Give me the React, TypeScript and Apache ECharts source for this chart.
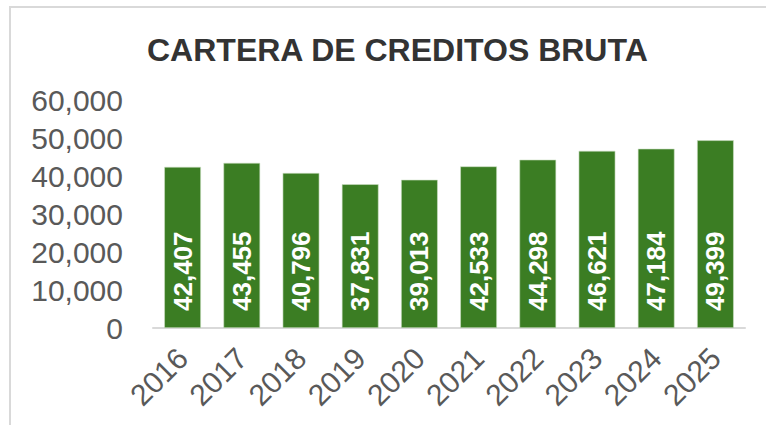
import React, { useEffect, useRef } from "react";
import * as echarts from "echarts";

const years = ["2016", "2017", "2018", "2019", "2020", "2021", "2022", "2023", "2024", "2025"];
const values = [42407, 43455, 40796, 37831, 39013, 42533, 44298, 46621, 47184, 49399];
const title = "CARTERA DE CREDITOS BRUTA";

const FONT = "'Liberation Sans', Arial, sans-serif";

export default function App() {
  const ref = useRef<HTMLDivElement>(null);
  useEffect(() => {
    if (!ref.current) return;
    const chart = echarts.init(ref.current, null, { renderer: "svg" });
    chart.setOption({
      animation: false,
      backgroundColor: "#ffffff",
      title: {
        text: title,
        left: 142,
        top: 29,
        textStyle: { fontFamily: FONT, fontSize: 32, fontWeight: "bold", color: "#333333" },
      },
      graphic: [
        {
          type: "rect",
          shape: { x: 10, y: 7, width: 900, height: 600 },
          style: { fill: "none", stroke: "#d9d9d9", lineWidth: 2 },
          silent: true,
        },
      ],
      grid: { left: 153, right: 21, top: 100, bottom: 97 },
      xAxis: {
        type: "category",
        data: years,
        axisLine: { show: true, lineStyle: { color: "#d9d9d9", width: 2 } },
        axisTick: { show: false },
        axisLabel: {
          rotate: 45,
          fontFamily: FONT,
          fontSize: 30,
          color: "#595959",
          margin: 25,
        },
      },
      yAxis: {
        type: "value",
        min: 0,
        max: 60000,
        interval: 10000,
        splitLine: { show: false },
        axisLine: { show: false },
        axisTick: { show: false },
        axisLabel: {
          fontFamily: FONT,
          fontSize: 30,
          color: "#595959",
          margin: 30,
          formatter: (v: number) => v.toLocaleString("en-US"),
        },
      },
      series: [
        {
          type: "bar",
          data: values,
          barWidth: "62%",
          itemStyle: { color: "#3b7d23", borderColor: "#cfe0c6", borderWidth: 0.6 },
          label: {
            show: true,
            position: "insideBottom",
            distance: 17,
            rotate: 90,
            align: "left",
            verticalAlign: "middle",
            fontFamily: FONT,
            fontSize: 26,
            fontWeight: "bold",
            color: "#ffffff",
            formatter: (p: any) => Number(p.value).toLocaleString("en-US"),
          },
        },
      ],
    });
    return () => chart.dispose();
  }, []);
  return (
    <div
      ref={ref}
      style={{ position: "absolute", left: 0, top: 0, width: 766, height: 425 }}
    />
  );
}
